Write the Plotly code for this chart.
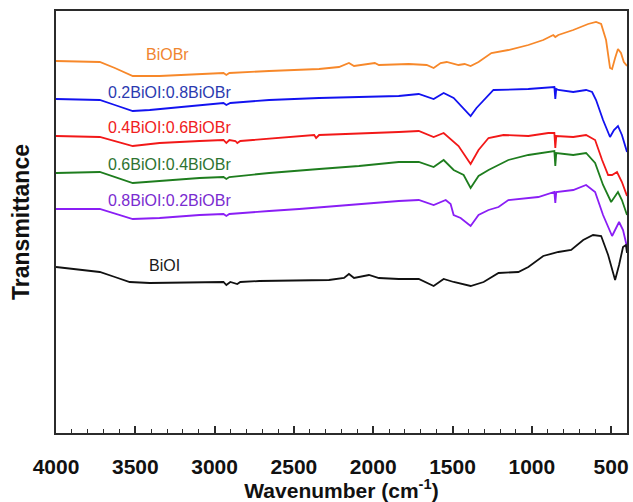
import plotly.graph_objects as go

# FTIR spectra (offset, arbitrary transmittance units) vs wavenumber in cm^-1
wn_biobr = [4000, 3724, 3629, 3516, 3347, 3095, 2944, 2926, 2907, 2656, 2341, 2216, 2153, 2121,
            2027, 1990, 1964, 1776, 1663, 1619, 1575, 1537, 1462, 1424, 1386, 1336, 1255, 1148,
            1022, 928, 865, 852, 833, 739, 645, 595, 563, 532, 507, 494, 475, 457, 438, 420, 400]
t_biobr = [372, 371, 365, 357, 357, 359, 360, 358, 360, 362, 364, 366, 370, 367,
           369, 370, 368, 369, 368, 365, 370, 371, 368, 369, 367, 371, 380, 383,
           388, 393, 398, 396, 398, 403, 409, 411, 409, 393, 365, 364, 375, 384, 380, 371, 367]

wn_02 = [4000, 3724, 3629, 3516, 3409, 3095, 2944, 2926, 2901, 2656, 2341, 1839, 1713, 1619,
         1556, 1493, 1430, 1386, 1349, 1304, 1242, 1022, 896, 858, 852, 846, 833, 739, 658,
         620, 595, 551, 507, 482, 457, 432, 400]
t_02 = [334, 333, 328, 322, 323, 328, 330, 328, 330, 333, 335, 337, 339, 334,
        340, 335, 325, 317, 325, 333, 343, 344, 346, 346, 334, 344, 343, 341, 343,
        341, 333, 313, 296, 303, 307, 298, 281]

wn_04 = [4000, 3724, 3516, 3347, 3095, 2944, 2926, 2907, 2869, 2857, 2838, 2372, 2360, 2341,
         1839, 1713, 1619, 1556, 1462, 1386, 1336, 1273, 1179, 1022, 896, 858, 852, 846,
         739, 658, 601, 557, 519, 494, 463, 432, 400]
t_04 = [297, 296, 287, 290, 292, 293, 290, 293, 292, 290, 292, 298, 295, 298,
        301, 302, 296, 300, 287, 269, 283, 295, 298, 297, 300, 300, 285, 297,
        296, 298, 293, 273, 258, 258, 261, 251, 237]

wn_06 = [4000, 3724, 3516, 3347, 3095, 2944, 2926, 2907, 2656, 2341, 2090, 1839, 1713, 1619,
         1556, 1493, 1430, 1386, 1336, 1273, 1148, 1022, 858, 852, 846, 739, 658, 601, 551,
         500, 457, 432, 400]
t_06 = [260, 261, 250, 252, 255, 256, 254, 256, 260, 264, 267, 271, 271, 266,
        273, 263, 258, 245, 257, 263, 273, 278, 282, 267, 280, 278, 280, 270, 248,
        231, 241, 233, 218]

wn_08 = [4000, 3724, 3516, 3347, 3095, 2944, 2926, 2907, 2656, 2467, 1839, 1713, 1619, 1543,
         1512, 1493, 1449, 1386, 1336, 1273, 1210, 1148, 959, 858, 852, 846, 739, 658, 601,
         551, 494, 450, 425, 400]
t_08 = [224, 224, 214, 215, 218, 219, 217, 219, 222, 224, 232, 233, 228, 233,
        229, 218, 215, 207, 218, 223, 226, 233, 236, 241, 230, 241, 243, 248, 241,
        218, 197, 211, 203, 186]

wn_bioi = [4000, 3724, 3629, 3535, 3409, 3095, 2944, 2926, 2901, 2857, 2838, 2718, 2467, 2279,
           2184, 2153, 2121, 2027, 1964, 1839, 1713, 1619, 1556, 1493, 1386, 1304, 1210, 1085,
           1022, 928, 833, 752, 676, 614, 563, 519, 475, 450, 425, 407, 400]
t_bioi = [166, 161, 156, 151, 150, 151, 151, 148, 151, 149, 151, 152, 153, 153,
          155, 159, 155, 158, 155, 154, 154, 147, 154, 151, 147, 151, 160, 161,
          166, 177, 181, 183, 193, 198, 197, 178, 153, 168, 186, 188, 180]

names = ["BiOBr", "0.2BiOI:0.8BiOBr", "0.4BiOI:0.6BiOBr",
         "0.6BiOI:0.4BiOBr", "0.8BiOI:0.2BiOBr", "BiOI"]
wavenumbers = [wn_biobr, wn_02, wn_04, wn_06, wn_08, wn_bioi]
spectra = [t_biobr, t_02, t_04, t_06, t_08, t_bioi]
colors = ["#F7882A", "#1212F0", "#F21818", "#1E7D1E", "#8A1EF5", "#111111"]
label_colors = ["#F0852F", "#2B3AB0", "#F02020", "#2E7330", "#7A2BD0", "#1A1A1A"]

# label anchor points (wavenumber, offset units)
label_x = [3296, 3284, 3284, 3284, 3284, 3315]
label_y = [379, 341, 306, 269, 233, 168]

fig = go.Figure()
for wn, t, name, c in zip(wavenumbers, spectra, names, colors):
    fig.add_trace(go.Scatter(x=wn, y=t, mode="lines", name=name,
                             line=dict(color=c, width=1.8), showlegend=False))

for name, lx, ly, lc in zip(names, label_x, label_y, label_colors):
    fig.add_annotation(x=lx, y=ly, text=name, showarrow=False,
                       font=dict(family="Liberation Sans", size=16, color=lc),
                       xanchor="center", yanchor="middle")

axis_color = "#2b2b2b"
fig.update_xaxes(
    range=[4000, 400], autorange=False,
    tickvals=[4000, 3500, 3000, 2500, 2000, 1500, 1000, 500],
    ticks="inside", ticklen=7, tickwidth=1.5, tickcolor=axis_color,
    minor=dict(ticks="inside", dtick=100, ticklen=4, tickwidth=1.2, tickcolor=axis_color),
    showline=True, linecolor=axis_color, linewidth=2, mirror=True,
    showgrid=False, zeroline=False,
    ticklabelstandoff=14,
    tickfont=dict(family="Liberation Sans", size=21, color="#111111", weight="bold"),
    title=dict(text="Wavenumber (cm<sup>-1</sup>)", standoff=3,
               font=dict(family="Liberation Sans", size=21, color="#111111", weight="bold")),
)
fig.update_yaxes(
    range=[0, 422], autorange=False,
    showticklabels=False, ticks="",
    showline=True, linecolor=axis_color, linewidth=2, mirror=True,
    showgrid=False, zeroline=False,
    title=dict(text="Transmittance", standoff=18,
               font=dict(family="Liberation Sans", size=23, color="#111111", weight="bold")),
)

fig.update_layout(
    width=633, height=502,
    margin=dict(l=56, r=4, t=11, b=69),
    paper_bgcolor="white", plot_bgcolor="white",
)

fig.write_html("out.html")
